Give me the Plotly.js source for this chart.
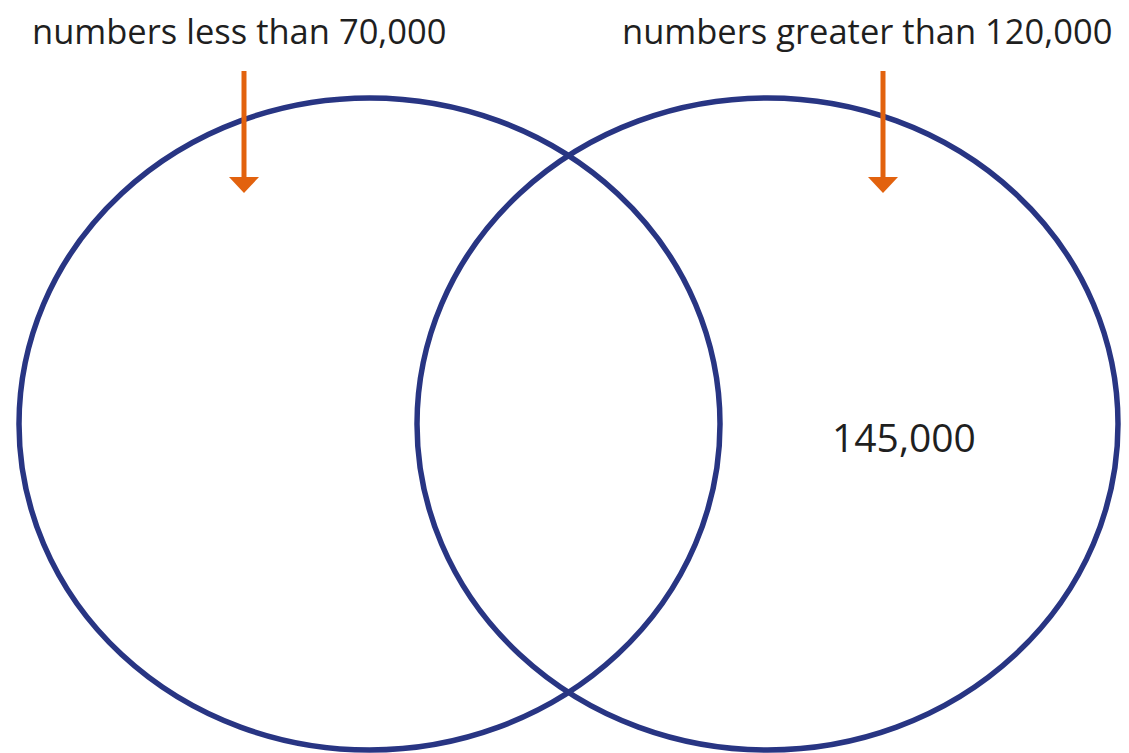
<!DOCTYPE html>
<html>
<head>
<meta charset="utf-8">
<script src="https://cdn.plot.ly/plotly-3.0.1.min.js"></script>
<style>html,body{margin:0;padding:0;background:#fff;}#chart{width:1129px;height:753px;}</style>
</head>
<body>
<div id="chart"></div>
<script>
// Data
const setLabels = ["numbers less than 70,000", "numbers greater than 120,000"];
const regionItems = ["145,000"];
const itemRegion = ["right only"];

// Geometry / style (pixel-space layout)
const W = 1129, H = 753;
const circleGeom = [
  {x0: 19, x1: 720, y0: 98, y1: 750},
  {x0: 417, x1: 1118, y0: 98, y1: 750}
];
const arrowX = [244, 883];
const labelPos = [{x: 239, y: 30}, {x: 867, y: 30}];
const itemPos = [{x: 904, y: 436}];
const navy = "#283583", orange = "#E2620E";

const shapes = [];
circleGeom.forEach(g => shapes.push({type: "circle", xref: "x", yref: "y", x0: g.x0, x1: g.x1, y0: g.y0, y1: g.y1, line: {color: navy, width: 5.5}}));
arrowX.forEach(x => {
  shapes.push({type: "line", xref: "x", yref: "y", x0: x, x1: x, y0: 71, y1: 180, line: {color: orange, width: 5}});
  shapes.push({type: "path", xref: "x", yref: "y", path: `M ${x-15} 177 L ${x+15} 177 L ${x} 193 Z`, fillcolor: orange, line: {width: 0}});
});

const annotations = [];
setLabels.forEach((t, i) => annotations.push({text: t, x: labelPos[i].x, y: labelPos[i].y, xref: "x", yref: "y", showarrow: false, xanchor: "center", yanchor: "middle", font: {family: "Open Sans", size: 34.5, color: "#1f1f1f"}}));
regionItems.forEach((t, i) => annotations.push({text: t, x: itemPos[i].x, y: itemPos[i].y, xref: "x", yref: "y", showarrow: false, xanchor: "center", yanchor: "middle", font: {family: "Open Sans", size: 39, color: "#1f1f1f"}}));

const layout = {
  width: W, height: H,
  margin: {l: 0, r: 0, t: 0, b: 0},
  paper_bgcolor: "#fff", plot_bgcolor: "#fff",
  xaxis: {range: [0, W], visible: false, fixedrange: true},
  yaxis: {range: [H, 0], visible: false, fixedrange: true},
  showlegend: false,
  shapes: shapes,
  annotations: annotations
};
Plotly.newPlot("chart", [{x: [], y: [], type: "scatter", mode: "markers", hoverinfo: "skip"}], layout, {displayModeBar: false, staticPlot: true});
</script>
</body>
</html>
